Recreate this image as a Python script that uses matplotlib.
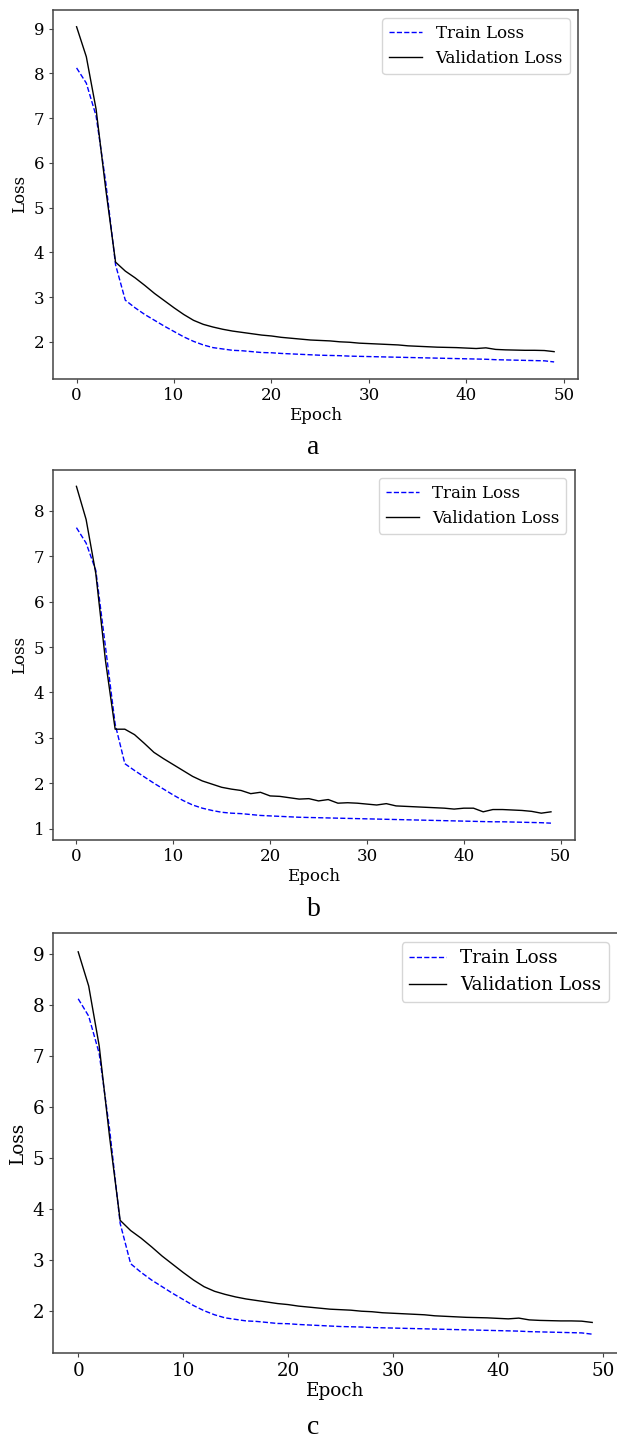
import matplotlib
matplotlib.use('Agg')
import matplotlib.pyplot as plt
import numpy as np

# Loss values (c repeats the run of a)
epochs = list(range(50))

train_a = [8.12, 7.78, 7.05, 5.55, 3.72, 2.93, 2.76, 2.61, 2.48, 2.35,
           2.23, 2.11, 2.01, 1.93, 1.87, 1.84, 1.81, 1.80, 1.78, 1.76,
           1.755, 1.74, 1.73, 1.72, 1.71, 1.70, 1.695, 1.69, 1.68, 1.675,
           1.67, 1.665, 1.66, 1.655, 1.65, 1.645, 1.64, 1.635, 1.63, 1.625,
           1.62, 1.615, 1.61, 1.60, 1.595, 1.59, 1.585, 1.58, 1.575, 1.55]
val_a = [9.04, 8.37, 7.20, 5.40, 3.78, 3.58, 3.43, 3.26, 3.08, 2.92,
         2.76, 2.61, 2.48, 2.39, 2.33, 2.28, 2.24, 2.21, 2.18, 2.15,
         2.13, 2.10, 2.08, 2.06, 2.04, 2.03, 2.02, 2.00, 1.99, 1.97,
         1.96, 1.95, 1.94, 1.93, 1.91, 1.90, 1.89, 1.88, 1.875, 1.87,
         1.86, 1.85, 1.865, 1.83, 1.82, 1.815, 1.81, 1.81, 1.805, 1.78]

train_b = [7.63, 7.29, 6.69, 5.00, 3.30, 2.43, 2.28, 2.14, 2.00, 1.87,
           1.74, 1.62, 1.52, 1.45, 1.40, 1.36, 1.34, 1.33, 1.31, 1.29,
           1.28, 1.27, 1.26, 1.25, 1.245, 1.24, 1.235, 1.23, 1.225, 1.22,
           1.215, 1.21, 1.205, 1.20, 1.195, 1.19, 1.185, 1.18, 1.175, 1.17,
           1.165, 1.16, 1.155, 1.15, 1.15, 1.145, 1.14, 1.135, 1.13, 1.12]
val_b = [8.54, 7.81, 6.62, 4.70, 3.19, 3.19, 3.07, 2.88, 2.68, 2.54,
         2.41, 2.28, 2.15, 2.05, 1.98, 1.91, 1.87, 1.84, 1.77, 1.80,
         1.72, 1.71, 1.68, 1.65, 1.66, 1.61, 1.64, 1.56, 1.57, 1.56,
         1.54, 1.52, 1.55, 1.50, 1.49, 1.48, 1.47, 1.46, 1.45, 1.43,
         1.45, 1.45, 1.37, 1.42, 1.42, 1.41, 1.40, 1.38, 1.34, 1.37]

panels = [('a', train_a, val_a), ('b', train_b, val_b), ('c', train_a, val_a)]

# pixel boxes (left, right, top, bottom) of each pasted figure
W, H = 617, 1441
boxes = [(52.7, 578.0, 10.0, 378.7),
         (52.7, 574.7, 469.5, 840.0),
         (52.5, 617.9, 932.7, 1353.3)]
font_sizes = [12, 12, 13.2]
captions_y = [448, 910, 1428]

plt.rcParams['font.family'] = 'DejaVu Serif'
fig = plt.figure(figsize=(W / 100, H / 100), dpi=100)

for (name, tr, va), (l, r, t, b), fs, cy in zip(panels, boxes, font_sizes, captions_y):
    ax = fig.add_axes([l / W, 1 - b / H, (r - l) / W, (b - t) / H])
    ax.plot(epochs, tr, 'b--', lw=1.0, label='Train Loss')
    ax.plot(epochs, va, 'k-', lw=1.0, label='Validation Loss')
    ax.set_xlabel('Epoch', fontsize=fs, labelpad=2)
    ax.set_ylabel('Loss', fontsize=fs)
    ax.tick_params(labelsize=fs, length=3, pad=3, color='#444444')
    for sp in ax.spines.values():
        sp.set_color('#444444')
        sp.set_linewidth(1.1)
    ax.legend(fontsize=fs, loc='upper right')
    fig.text(313.5 / W, 1 - cy / H, name, family='Liberation Serif',
             fontsize=20, ha='center', va='center')

plt.savefig('out.png', dpi=100)
